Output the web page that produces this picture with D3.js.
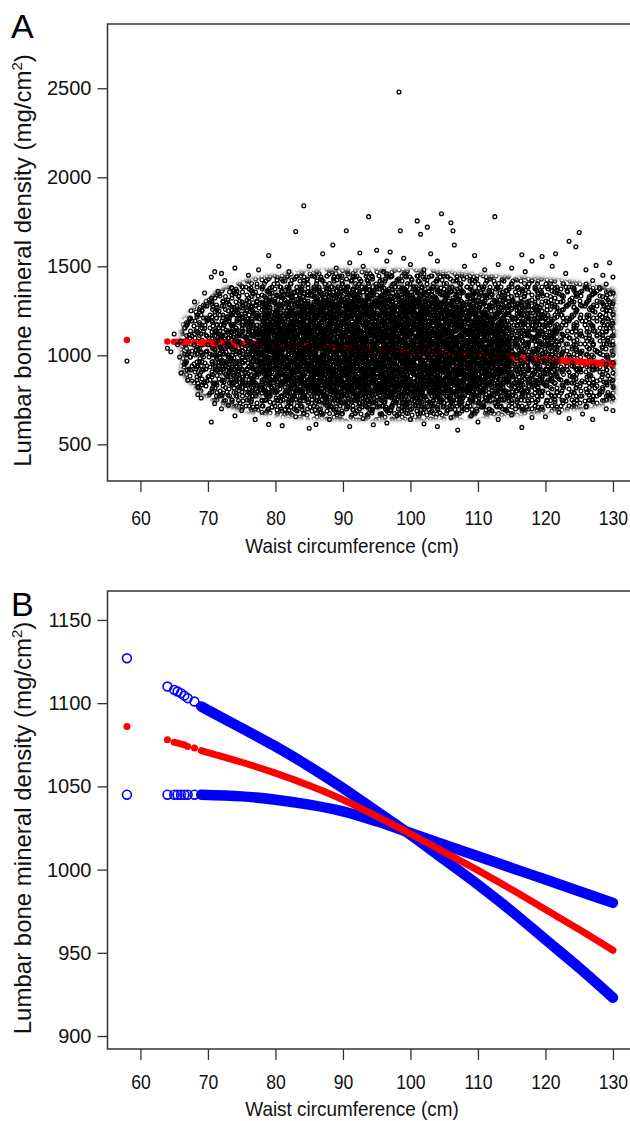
<!DOCTYPE html>
<html>
<head>
<meta charset="utf-8">
<script src="https://cdn.jsdelivr.net/npm/d3@7"></script>
<style>
  body { margin: 0; background: #fff; }
  svg { display: block; font-family: "Liberation Sans", Arial, sans-serif; }
</style>
</head>
<body>
<svg id="chart" width="630" height="1121"></svg>
<script>
// ---- data ----
const waistTicks = [60, 70, 80, 90, 100, 110, 120, 130];
const bmdTicksA = [500, 1000, 1500, 2000, 2500];
const bmdTicksB = [900, 950, 1000, 1050, 1100, 1150];

// sparse waist values at the left end of the fitted curve
const startX     = [58, 64, 65, 65.5, 66, 66.5, 67, 68];
const startUpper = [1127, 1110, 1108, 1107, 1106, 1104.5, 1103, 1101];
const startLower = [1045, 1045, 1045, 1045, 1045, 1045, 1045, 1045];
const startFit   = [1086, 1078, 1076.5, 1076, 1075.5, 1075, 1074, 1073];

// dense part of the fitted curve and its confidence limits
const curveX = [69, 75, 80, 85, 90, 95, 100, 105, 110, 115, 120, 125, 130];
const upperY = [1098, 1085, 1074, 1062, 1049, 1035, 1021, 1006, 991, 975, 958, 941, 923];
const lowerY = [1045, 1044, 1042, 1039, 1035, 1029, 1022, 1015, 1008, 1001, 994, 987, 980];
const fitY   = [1071.5, 1064.5, 1058, 1050.5, 1042, 1032, 1021.5, 1010.5, 999.5, 988, 976, 964, 951.5];

// envelope of the scatter cloud (outer, dense and core zones)
const cloudX1  = [66, 68, 70, 74, 78, 82, 86, 90, 95, 100, 105, 110, 115, 120, 125, 128, 130.3];
const cloudLo1 = [900, 820, 760, 700, 670, 655, 645, 640, 640, 640, 645, 655, 665, 680, 700, 720, 740];
const cloudHi1 = [1180, 1270, 1330, 1400, 1440, 1460, 1475, 1480, 1480, 1480, 1470, 1455, 1440, 1430, 1410, 1390, 1370];

const cloudX2  = [71, 74, 78, 82, 86, 90, 95, 100, 105, 110, 115, 119, 122];
const cloudLo2 = [920, 820, 760, 730, 715, 705, 700, 700, 705, 720, 745, 790, 870];
const cloudHi2 = [1180, 1270, 1330, 1365, 1385, 1395, 1400, 1395, 1385, 1365, 1330, 1270, 1170];

const cloudX3  = [77, 80, 84, 88, 92, 96, 100, 104, 108, 112, 115];
const cloudLo3 = [920, 840, 800, 780, 770, 765, 765, 770, 785, 820, 890];
const cloudHi3 = [1160, 1235, 1280, 1310, 1325, 1330, 1325, 1310, 1280, 1230, 1150];

// single participants outside the dense cloud [waist, bmd]
const loosePoints = [
  [98.3,2479],[84.2,1840],[83,1695],[90.5,1700],[93.8,1779],[98.5,1700],[101,1755],[102.5,1720],
  [104.6,1795],[106.3,1700],[106,1745],[112.5,1779],[101.5,1680],[125,1690],[124.5,1610],[79,1560],
  [95,1590],[92.5,1575],[87,1570],[97,1580],[106.5,1620],[109.5,1560],[116.5,1565],[119.5,1555],
  [121.5,1570],[123.5,1640],[127.5,1505],[129.5,1520],[88.5,1620],[96.5,1530],[99,1545],[103,1570],
  [100,1510],[91,1520],[85,1500],[80.5,1500],[77.5,1480],[74,1490],[72,1460],[71,1470],[70.5,1440],
  [113,1510],[115,1490],[118,1530],[121,1500],[126,1480],[128.5,1450],[130,1440],[108,1500],
  [111,1480],[104,1530],[93,1500],[89,1490],[82,1470],[76,1450],[96,1470],[102,1480],[117,1470],
  [123,1460],[129,1400],[130,1350],
  [70.5,625],[74,660],[77,640],[79,612],[81,605],[83,655],[85,590],[86,612],[88,640],[91,600],
  [93,645],[94.5,610],[96.5,620],[98,660],[100,640],[102,615],[104,600],[106,650],[107,580],
  [109,660],[110,625],[113,640],[115,665],[116.5,595],[118,650],[120,655],[122,680],[123.5,645],
  [125.5,670],[127,640],[129,700],[130,690],[72,700],[75,690],[78,680],[82,690],[89,680],[97,690],
  [103,680],[112,690],[118,700],[126,710],[68.5,780],[69,760],[71,730],[73,720],
  [58,968],[64.5,1020],[65,1120],[65.5,1060],[65.8,990],[66,900],[66.5,950],[67,860],[67,1180],
  [67.5,1250],[68,1060],[68,1300],[68.5,820],[69,940],[69.5,1150],[69.5,1350],[70,1200],[70,880],
  [70.5,1320],[71,1000],[71.5,1360],[71,840],[72,780],[72.5,1420],[73,1250],[73.5,1380],[66,1080],
  [67,1010],[68,1120],[69,1020],[70,1060],[71,1110],[72,960],[64,1040],
  [130,1290],[130,1230],[130,1180],[130,1110],[130,1060],[130,1000],[130,960],[130,900],[130,860],
  [130,820],[130,760],[129.5,1300],[129,1250],[129,1150],[129,950],[129,850],[128,1380],[128,780],
  [127,1420],[127,750],[126,1400],
  [74,1080],[76,1060],[118,980],[121,945],[124,960],[127,940],[122,1000],[125,930]
];

// ---- drawing ----
const svg = d3.select("#chart");
const defs = svg.append("defs");
const axisColor = "#333";
const dotR = 1.9, dotW = 1.3;

const x = d3.scaleLinear().domain([55.12, 132.88]).range([107.5, 632.4]);
const yA = d3.scaleLinear().domain([294, 2861]).range([481, 24]);
const yB = d3.scaleLinear().domain([892.2, 1167.4]).range([1049, 591]);

// blur used to soften the edges of the cloud zones
defs.append("filter").attr("id", "soft")
  .attr("x", "-10%").attr("y", "-10%").attr("width", "120%").attr("height", "120%")
  .append("feGaussianBlur").attr("stdDeviation", 2.2);

// tiles of small open circles (different periods so the overlap looks irregular)
const tiles = [
  [13, [[2,3],[8.5,6],[4.5,10.5]]],
  [17, [[3,12],[10,2],[14,9],[8,15.5],[6,6]]],
  [19, [[1,5],[9,9],[15,2],[13,16],[5,15]]],
  [15, [[7,1],[12,12],[2,8]]],
  [23, [[4,2],[12,7],[20,12],[6,18],[16,20],[2,11],[18,3]]],
  [11, [[3,7],[8,2]]],
  [29, [[5,5],[14,3],[24,8],[10,14],[20,17],[27,24],[4,25],[15,26],[9,21]]],
  [12, [[6,4],[1,10]]],
  [14, [[4,4],[10,9],[2,11]]],
  [31, [[6,3],[18,6],[28,10],[11,15],[22,20],[3,22],[14,27],[25,28],[7,10]]],
  [16, [[5,3],[12,8],[3,13]]],
  [21, [[2,2],[9,12],[16,6],[14,17],[5,18]]],
  [10, [[2,6],[7,1]]],
  [9,  [[4,4]]],
  [18, [[3,3],[12,5],[8,12],[16,15]]]
];
tiles.forEach(([s, pts], i) => {
  const copies = [];
  pts.forEach(([cx, cy]) => {
    [-s, 0, s].forEach(dx => [-s, 0, s].forEach(dy => copies.push([cx + dx, cy + dy])));
  });
  const p = defs.append("pattern").attr("id", "tile" + i)
    .attr("patternUnits", "userSpaceOnUse")
    .attr("width", s).attr("height", s)
    .attr("x", i * 5).attr("y", i * 3);
  p.selectAll("circle").data(copies).join("circle")
    .attr("cx", d => d[0]).attr("cy", d => d[1]).attr("r", dotR)
    .attr("fill", "none").attr("stroke", "#000").attr("stroke-width", dotW);
});

function axisText(sel, sx) {
  sel.selectAll("text")
    .attr("font-size", 20)
    .attr("fill", "#111")
    .attr("transform", sx ? `scale(${sx},1)` : null);
}

function drawFrame(y, ticks, top, bottom, letter, letterY, labelPad, titleY) {
  svg.append("rect")
    .attr("x", x.range()[0]).attr("y", top)
    .attr("width", x.range()[1] - x.range()[0]).attr("height", bottom - top)
    .attr("fill", "none").attr("stroke", axisColor).attr("stroke-width", 1.5);

  const gx = svg.append("g").attr("transform", `translate(0,${bottom})`)
    .call(d3.axisBottom(x).tickValues(waistTicks).tickFormat(d3.format("d"))
      .tickSize(11).tickPadding(labelPad).tickSizeOuter(0));
  gx.select(".domain").remove();
  gx.selectAll("line").attr("stroke", axisColor).attr("stroke-width", 1.3);
  axisText(gx, 0.88);

  const gy = svg.append("g").attr("transform", `translate(${x.range()[0]},0)`)
    .call(d3.axisLeft(y).tickValues(ticks).tickFormat(d3.format("d"))
      .tickSize(10).tickPadding(6).tickSizeOuter(0));
  gy.select(".domain").remove();
  gy.selectAll("line").attr("stroke", axisColor).attr("stroke-width", 1.3);
  axisText(gy, null);

  svg.append("text")
    .attr("transform", `translate(352,${titleY}) scale(0.9,1)`)
    .attr("text-anchor", "middle").attr("font-size", 21).attr("fill", "#111")
    .text("Waist circumference (cm)");

  const yt = svg.append("text")
    .attr("transform", `translate(31,${(top + bottom) / 2 + 8}) rotate(-90)`)
    .attr("text-anchor", "middle").attr("font-size", 24).attr("fill", "#111");
  yt.append("tspan").text("Lumbar bone mineral density (mg/cm");
  yt.append("tspan").attr("dy", -9).attr("font-size", 15).text("2");
  yt.append("tspan").attr("dy", 9).text(")");

  svg.append("text").attr("x", 11).attr("y", letterY)
    .attr("font-size", 34).attr("fill", "#000").text(letter);
}

const zip = (xs, a, b) => xs.map((v, i) => ({ x: v, lo: a[i], hi: b ? b[i] : a[i] }));

// ---------- panel A ----------
drawFrame(yA, bmdTicksA, 24, 481, "A", 38, 19, 553);

defs.append("clipPath").attr("id", "clipA").append("rect")
  .attr("x", x.range()[0]).attr("y", 24)
  .attr("width", x.range()[1] - x.range()[0]).attr("height", 457);
const gA = svg.append("g").attr("clip-path", "url(#clipA)");

const zoneArea = d3.area().x(d => x(d.x)).y0(d => yA(d.lo)).y1(d => yA(d.hi))
  .curve(d3.curveCatmullRom);
function drawZone(xs, lo, hi, layers, i) {
  const m = defs.append("mask").attr("id", "zone" + i)
    .attr("maskUnits", "userSpaceOnUse")
    .attr("x", 0).attr("y", 0).attr("width", 630).attr("height", 560);
  m.append("path").datum(zip(xs, lo, hi)).attr("d", zoneArea)
    .attr("fill", "#fff").attr("filter", "url(#soft)");
  const g = gA.append("g").attr("mask", `url(#zone${i})`);
  layers.forEach(t => {
    g.append("rect")
      .attr("x", x.range()[0]).attr("y", 24)
      .attr("width", x.range()[1] - x.range()[0]).attr("height", 457)
      .attr("fill", `url(#tile${t})`);
  });
}

// outer zone, then the red fitted line, then the dense zones over it
drawZone(cloudX1, cloudLo1, cloudHi1, [0, 1, 2, 3], 0);

const fitLineA = d3.line().x(d => x(d.x)).y(d => yA(d.lo)).curve(d3.curveCatmullRom);
gA.append("path").datum(zip(curveX, fitY))
  .attr("d", fitLineA).attr("fill", "none")
  .attr("stroke", "#f00").attr("stroke-width", 6.6).attr("stroke-linecap", "round");
gA.selectAll("circle.fitA").data(zip(startX, startFit)).join("circle")
  .attr("class", "fitA").attr("cx", d => x(d.x)).attr("cy", d => yA(d.lo))
  .attr("r", 3.3).attr("fill", "#f00");

drawZone(cloudX2, cloudLo2, cloudHi2, [4, 5, 6, 7], 1);
drawZone(cloudX3, cloudLo3, cloudHi3, [8, 9, 10, 11, 12, 13, 14], 2);

gA.selectAll("circle.pt").data(loosePoints).join("circle")
  .attr("class", "pt")
  .attr("cx", d => x(d[0])).attr("cy", d => yA(d[1]))
  .attr("r", dotR).attr("fill", "none").attr("stroke", "#000").attr("stroke-width", dotW);

// ---------- panel B ----------
drawFrame(yB, bmdTicksB, 591, 1049, "B", 616, 15, 1116);

const gB = svg.append("g");
const lineB = d3.line().x(d => x(d.x)).y(d => yB(d.lo)).curve(d3.curveCatmullRom);

[upperY, lowerY].forEach(vals => {
  gB.append("path").datum(zip(curveX, vals))
    .attr("d", lineB).attr("fill", "none")
    .attr("stroke", "#00f").attr("stroke-width", 10.5).attr("stroke-linecap", "round");
});
[startUpper, startLower].forEach(vals => {
  gB.append("g").selectAll("circle").data(zip(startX, vals)).join("circle")
    .attr("cx", d => x(d.x)).attr("cy", d => yB(d.lo))
    .attr("r", 4.4).attr("fill", "none").attr("stroke", "#00f").attr("stroke-width", 1.6);
});

gB.append("path").datum(zip(curveX, fitY))
  .attr("d", lineB).attr("fill", "none")
  .attr("stroke", "#f00").attr("stroke-width", 7).attr("stroke-linecap", "round");
gB.append("g").selectAll("circle").data(zip(startX, startFit)).join("circle")
  .attr("cx", d => x(d.x)).attr("cy", d => yB(d.lo))
  .attr("r", 3.5).attr("fill", "#f00");
</script>
</body>
</html>
